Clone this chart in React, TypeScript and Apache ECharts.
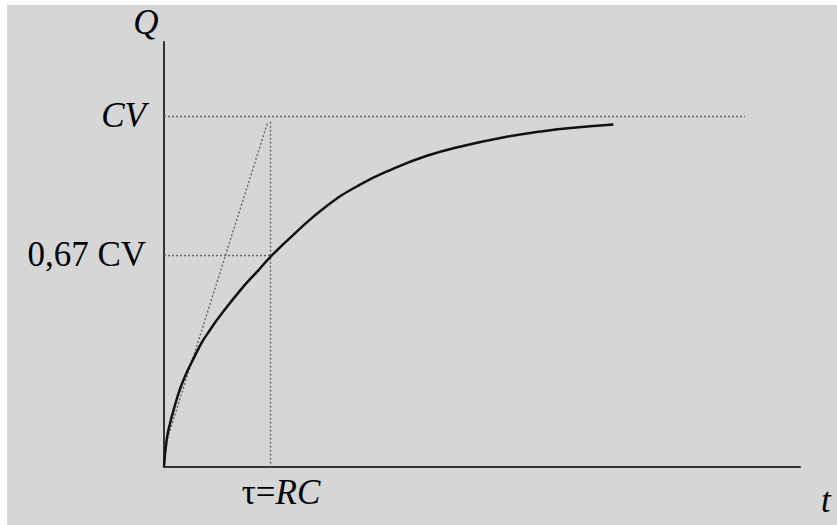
import React, { useEffect, useRef } from "react";
import * as echarts from "echarts";

// Time in units of tau (= RC); charge in units of CV
const tValues = [0, 0.025, 0.057, 0.104, 0.151, 0.214, 0.276, 0.356, 0.434, 0.522, 0.733, 0.89, 1.0, 1.22, 1.535, 1.85, 2.16, 2.48, 2.79, 3.23, 3.55, 3.86, 4.24];
const qValues = [0, 0.077, 0.124, 0.176, 0.222, 0.269, 0.307, 0.354, 0.39, 0.428, 0.508, 0.56, 0.597, 0.661, 0.743, 0.804, 0.849, 0.886, 0.912, 0.94, 0.955, 0.966, 0.975];

const capLevel = 1; // CV
const tauLevel = 0.604; // level drawn for "0,67 CV"
const tau = 1;
const capLineEnd = 5.48;
const tauLineTop = 0.983;
const tangentStart = [0.01, 0.06];
const tangentEnd = [0.98, 0.983];

const yLabels = ["CV", "0,67 CV"];
const tauLabel = ["τ=", "RC"];
const axisNames = ["t", "Q"];

const FONT = "Liberation Serif";

export default function App() {
  const ref = useRef<HTMLDivElement>(null);
  useEffect(() => {
    if (!ref.current) return;
    const chart = echarts.init(ref.current, null, { renderer: "svg" });
    const guide = { color: "#666", width: 1.4, type: [2, 2] as any };
    const labelBase = { color: "#000", fontFamily: FONT, fontSize: 35 };
    chart.setOption({
      animation: false,
      backgroundColor: "#ffffff",
      graphic: [
        {
          type: "rect",
          z: -10,
          silent: true,
          shape: { x: 7, y: 5, width: 830, height: 520 },
          style: { fill: "#d6d6d6" },
        },
      ],
      grid: { left: 164, right: 37, top: 42, bottom: 58 },
      xAxis: {
        type: "value",
        min: 0,
        max: 6,
        name: axisNames[0],
        nameLocation: "end",
        nameGap: 21,
        nameTextStyle: { ...labelBase, fontStyle: "italic", verticalAlign: "top", padding: [16, 0, 0, 0] },
        axisLine: { lineStyle: { color: "#333", width: 2 } },
        axisTick: { show: false },
        axisLabel: { show: false },
        splitLine: { show: false },
      },
      yAxis: {
        type: "value",
        min: 0,
        max: 1.21,
        name: axisNames[1],
        nameLocation: "end",
        nameGap: 2,
        nameTextStyle: { ...labelBase, fontStyle: "italic", padding: [0, 36, 0, 0] },
        axisLine: { lineStyle: { color: "#333", width: 2 } },
        axisTick: { show: false },
        axisLabel: { show: false },
        splitLine: { show: false },
      },
      series: [
        {
          type: "line",
          data: tValues.map((t, i) => [t, qValues[i]]),
          smooth: 0.5,
          showSymbol: false,
          symbol: "none",
          silent: true,
          lineStyle: { color: "#111", width: 2.5 },
          z: 5,
          markLine: {
            silent: true,
            symbol: ["none", "none"],
            animation: false,
            lineStyle: guide,
            data: [
              [
                {
                  coord: [0, capLevel],
                  lineStyle: guide,
                  label: {
                    show: true,
                    position: "start",
                    distance: 18,
                    formatter: yLabels[0],
                    ...labelBase,
                    fontStyle: "italic",
                  },
                },
                { coord: [capLineEnd, capLevel] },
              ],
              [
                {
                  coord: [0, tauLevel],
                  lineStyle: guide,
                  label: {
                    show: true,
                    position: "start",
                    distance: 18,
                    formatter: yLabels[1],
                    ...labelBase,
                  },
                },
                { coord: [tau, tauLevel] },
              ],
              [
                {
                  coord: [tau, tauLineTop],
                  lineStyle: guide,
                  label: {
                    show: true,
                    position: "end",
                    distance: 8,
                    formatter: "{a|" + tauLabel[0] + "}{b|" + tauLabel[1] + "}",
                    padding: [0, 0, 0, 22],
                    rich: {
                      a: { ...labelBase },
                      b: { ...labelBase, fontStyle: "italic" },
                    },
                  },
                },
                { coord: [tau, 0] },
              ],
              [
                { coord: tangentStart, lineStyle: guide, label: { show: false } },
                { coord: tangentEnd },
              ],
            ],
          },
        },
      ],
    });
    return () => chart.dispose();
  }, []);
  return (
    <div
      ref={ref}
      style={{ position: "fixed", left: 0, top: 0, width: 837, height: 525 }}
    />
  );
}
